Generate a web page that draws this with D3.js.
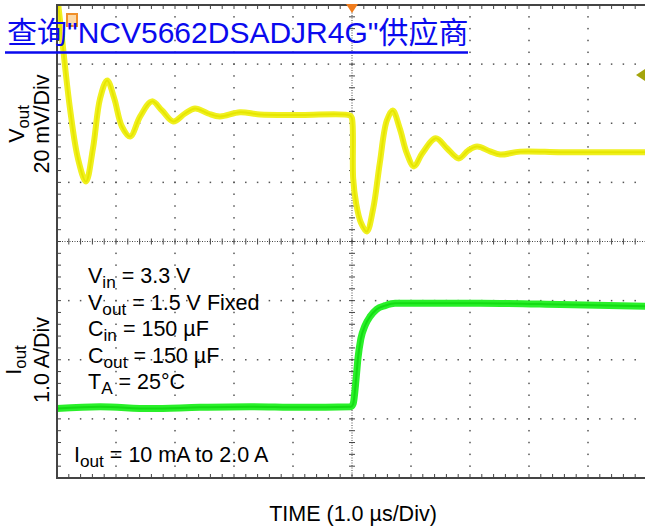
<!DOCTYPE html>
<html><head><meta charset="utf-8">
<script src="https://cdn.jsdelivr.net/npm/d3@7/dist/d3.min.js"></script>
<style>body{margin:0;background:#fff}svg{display:block}</style>
</head><body>
<script>
// ---- data ----
// time in µs (1.0 µs/Div), 10 divisions across
const voutTime = [0,0.085,0.22,0.356,0.49,0.61,0.73,0.85,0.97,1.10,1.24,1.41,1.61,1.78,1.97,2.17,2.34,2.56,2.76,3.10,3.44,4.12,4.97,5.0,5.02,5.07,5.15,5.25,5.36,5.47,5.59,5.69,5.81,5.93,6.05,6.19,6.42,6.61,6.81,6.97,7.12,7.34,7.51,7.85,8.53,9.2,10];
// Vout deviation in mV (20 mV/Div), relative to screen centre line
const voutMV = [84,68.7,45,28,20.3,31.5,48.4,54.5,48.4,38.9,35.5,42.3,47.4,44.3,40.6,43.3,45,43.3,42.3,43.7,43,42.8,42.6,41.6,21.3,12.9,6.4,3.4,11.2,26.4,40.9,44.3,38.2,29.8,25.4,29.8,34.9,31.5,28.1,30.8,32.1,30.5,29.4,30.4,30.2,30.2,30.2];
const ioutTime = [0,0.73,1.58,2.42,3.27,4.12,4.98,5.02,5.07,5.10,5.15,5.22,5.31,5.42,5.56,5.73,6.15,7.17,8.53,10];
// Iout in A (1.0 A/Div)
const ioutA = [0.01,0.04,0.01,0.03,0.04,0.03,0.04,0.09,0.52,0.85,1.19,1.41,1.57,1.69,1.75,1.79,1.79,1.79,1.77,1.74];

const titleText = '查询"NCV5662DSADJR4G"供应商';
const notes = [["V","in"," = 3.3 V"],["V","out"," = 1.5 V Fixed"],["C","in"," = 150 µF"],["C","out"," = 150 µF"],["T","A"," = 25°C"]];
const noteBottom = ["I","out"," = 10 mA to 2.0 A"];
const xLabel = "TIME (1.0 µs/Div)";

// ---- layout ----
const W = 645, H = 531;
const L = 57, R = 647, T = 5, B = 478;
const x = d3.scaleLinear().domain([0,10]).range([L,R]);
const yDiv = d3.scaleLinear().domain([-4,4]).range([B,T]);
const yV = d3.scaleLinear().domain([-80,80]).range([B,T]);          // 20 mV/div
const yI = d3.scaleLinear().domain([-1.165,6.835]).range([B,T]);    // 1.0 A/div

const svg = d3.select("body").append("svg").attr("width",W).attr("height",H);
svg.append("defs").append("clipPath").attr("id","clip")
  .append("rect").attr("x",L).attr("y",T).attr("width",R-L).attr("height",B-T);

const FONT = "'Liberation Sans', Arial, sans-serif";
const grid = svg.append("g");
const gridCol = "#555";
const minorX = d3.range(0,10.001,0.2), minorY = d3.range(-4,4.001,0.2);
// dotted major grid lines
for (let k=1;k<10;k++){ if(k===5) continue;
  grid.selectAll(null).data(minorY).join("rect")
    .attr("x",x(k)-0.75).attr("y",d=>yDiv(d)-0.75).attr("width",1.5).attr("height",1.5).attr("fill",gridCol);
}
for (let j=-3;j<4;j++){ if(j===0) continue;
  grid.selectAll(null).data(minorX).join("rect")
    .attr("x",d=>x(d)-0.75).attr("y",yDiv(j)-0.75).attr("width",1.5).attr("height",1.5).attr("fill",gridCol);
}
// centre lines
grid.append("line").attr("x1",x(5)).attr("x2",x(5)).attr("y1",T).attr("y2",B)
  .attr("stroke","#444").attr("stroke-width",1).attr("stroke-dasharray","1,1.5");
grid.append("line").attr("x1",L).attr("x2",R).attr("y1",yDiv(0)).attr("y2",yDiv(0))
  .attr("stroke","#444").attr("stroke-width",1).attr("stroke-dasharray","1,1.5");
grid.selectAll(null).data(minorY).join("line")
  .attr("x1",x(5)-3).attr("x2",x(5)+3).attr("y1",d=>yDiv(d)).attr("y2",d=>yDiv(d))
  .attr("stroke","#444").attr("stroke-width",1);
grid.selectAll(null).data(minorX).join("line")
  .attr("y1",yDiv(0)-3).attr("y2",yDiv(0)+3).attr("x1",d=>x(d)).attr("x2",d=>x(d))
  .attr("stroke","#444").attr("stroke-width",1);
// border ticks
grid.selectAll(null).data(minorX).join("line")
  .attr("x1",d=>x(d)).attr("x2",d=>x(d)).attr("y1",T).attr("y2",T+4).attr("stroke","#444");
grid.selectAll(null).data(minorX).join("line")
  .attr("x1",d=>x(d)).attr("x2",d=>x(d)).attr("y1",B-4).attr("y2",B).attr("stroke","#444");
grid.selectAll(null).data(minorY).join("line")
  .attr("x1",L).attr("x2",L+4).attr("y1",d=>yDiv(d)).attr("y2",d=>yDiv(d)).attr("stroke","#444");

// traces
const plot = svg.append("g").attr("clip-path","url(#clip)");
const lineV = d3.line().x((d,i)=>x(voutTime[i])).y(d=>yV(d)).curve(d3.curveCatmullRom.alpha(0.5));
const lineI = d3.line().x((d,i)=>x(ioutTime[i])).y(d=>yI(d)).curve(d3.curveMonotoneX);
plot.append("path").attr("d",lineV(voutMV)).attr("fill","none").attr("stroke","#f0f020")
  .attr("stroke-width",6).attr("stroke-linejoin","round");
plot.append("path").attr("d",lineV(voutMV)).attr("fill","none").attr("stroke","#e6e600")
  .attr("stroke-width",2).attr("stroke-linejoin","round");
plot.append("path").attr("d",lineI(ioutA)).attr("fill","none").attr("stroke","#2af02a")
  .attr("stroke-width",7).attr("stroke-linejoin","round");
plot.append("path").attr("d",lineI(ioutA)).attr("fill","none").attr("stroke","#14dc14")
  .attr("stroke-width",2).attr("stroke-linejoin","round");

// border
svg.append("rect").attr("x",L).attr("y",T).attr("width",R-L).attr("height",B-T)
  .attr("fill","none").attr("stroke","#444").attr("stroke-width",2);

// markers
svg.append("path").attr("d",`M${x(5)-6},${T-1}L${x(5)+6},${T-1}L${x(5)},${T+8}Z`).attr("fill","#f07c1c");
svg.append("rect").attr("x",67).attr("y",14).attr("width",10).attr("height",12)
  .attr("fill","#fbd9a8").attr("stroke","#f0902a").attr("stroke-width",2);
svg.append("path").attr("d",`M636,75L645,69L645,81Z`).attr("fill","#a4a40c");

// axis labels
function rotLabel(cx, cy, main, sub, rest, size){
  const t = svg.append("text").attr("transform",`translate(${cx},${cy}) rotate(-90)`)
    .attr("text-anchor","middle").attr("font-family",FONT).attr("font-size",size).attr("fill","#000");
  t.append("tspan").text(main);
  if(sub){ t.append("tspan").attr("font-size",size*0.78).attr("dy",5).text(sub); }
  if(rest){ t.append("tspan").attr("dy",sub?-5:0).text(rest); }
}
rotLabel(24,124,"V","out",null,21.5);
rotLabel(49,124,"20 mV/Div",null,null,21.5);
rotLabel(21,360,"I","out",null,21.5);
rotLabel(49,360,"1.0 A/Div",null,null,21.5);

// notes
function subText(x0,y0,parts,size){
  const t = svg.append("text").attr("x",x0).attr("y",y0).attr("font-family",FONT).attr("font-size",size).attr("fill","#000");
  t.append("tspan").text(parts[0]);
  t.append("tspan").attr("font-size",size*0.8).attr("dy",5).text(parts[1]);
  t.append("tspan").attr("dy",-5).text(parts[2]);
}
notes.forEach((n,i)=>subText(88,283+i*26.5,n,21.5));
subText(74,462,noteBottom,21.5);

svg.append("text").attr("x",353).attr("y",521).attr("text-anchor","middle")
  .attr("font-family",FONT).attr("font-size",21.5).attr("fill","#000").text(xLabel);

// overlay title link
svg.append("text").attr("x",7).attr("y",43).attr("font-family","'Liberation Sans', Arial, 'Noto Sans CJK SC', sans-serif")
  .attr("font-size",30).attr("fill","#0a0aee").text(titleText);
svg.append("line").attr("x1",5).attr("x2",468).attr("y1",52.5).attr("y2",52.5).attr("stroke","#0a0aee").attr("stroke-width",2.5);
</script>
</body></html>
